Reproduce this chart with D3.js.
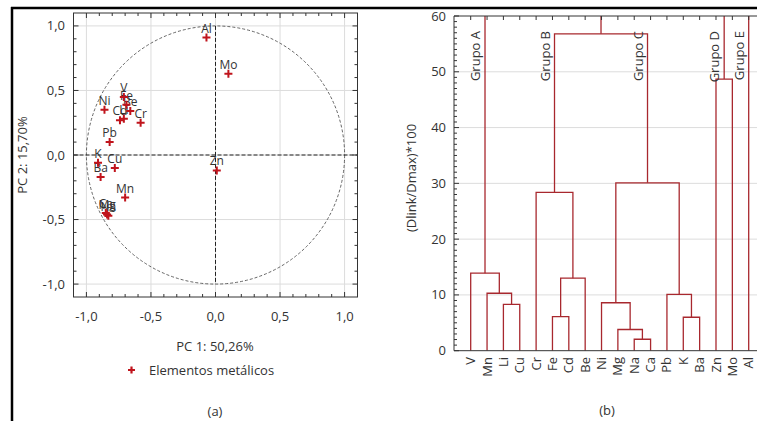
<!DOCTYPE html>
<html lang="pt">
<head>
<meta charset="UTF-8" />
<title>PCA e dendrograma - elementos metálicos</title>
<script src="https://d3js.org/d3.v7.min.js"></script>
<style>
  body { margin: 0; background: #fff; }
  svg { display: block; font-family: "Open Sans", sans-serif; }
  .tick-label { font-size: 13px; fill: #333; }
  .axis-title { font-size: 13px; fill: #333; }
</style>
</head>
<body>
<svg width="757" height="421"></svg>
<script>
// ---- data: PCA loadings (a)
const elements = ["Al", "Mo", "V", "Fe", "Be", "Li", "Cd", "Cr", "Ni", "Pb", "K", "Cu", "Ba", "Zn", "Mn", "Mg", "Na", "Ca"];
const pc1 = [-0.07, 0.10, -0.71, -0.69, -0.66, -0.71, -0.74, -0.58, -0.86, -0.82, -0.91, -0.78, -0.89, 0.01, -0.70, -0.84, -0.83, -0.85];
const pc2 = [0.91, 0.63, 0.45, 0.39, 0.34, 0.28, 0.27, 0.25, 0.35, 0.10, -0.06, -0.10, -0.17, -0.12, -0.33, -0.46, -0.47, -0.45];
const pcTicks = [-1, -0.5, 0, 0.5, 1];

// ---- data: dendrogram (b)
const leaves = ["V", "Mn", "Li", "Cu", "Cr", "Fe", "Cd", "Be", "Ni", "Mg", "Na", "Ca", "Pb", "K", "Ba", "Zn", "Mo", "Al"];
// [node id, left child, right child, linkage distance]
const merges = [
  ["LiCu", "Li", "Cu", 8.3],
  ["MnLiCu", "Mn", "LiCu", 10.3],
  ["A", "V", "MnLiCu", 13.9],
  ["FeCd", "Fe", "Cd", 6.1],
  ["FeCdBe", "FeCd", "Be", 13.0],
  ["B", "Cr", "FeCdBe", 28.4],
  ["NaCa", "Na", "Ca", 2.05],
  ["MgNaCa", "Mg", "NaCa", 3.8],
  ["NiMg", "Ni", "MgNaCa", 8.6],
  ["KBa", "K", "Ba", 6.0],
  ["PbKBa", "Pb", "KBa", 10.1],
  ["C", "NiMg", "PbKBa", 30.1],
  ["BC", "B", "C", 56.8],
  ["D", "Zn", "Mo", 48.7]
];
const roots = ["A", "BC", "D", "Al"]; // joined above the top of the axis
const groupNames = ["Grupo A", "Grupo B", "Grupo C", "Grupo D", "Grupo E"];
const groupNodes = ["A", "B", "C", "D", "Al"];
const distTicks = [0, 10, 20, 30, 40, 50, 60];

const svg = d3.select("svg");
const red = "#c0141c", darkRed = "#a8282e";
const fmt = v => d3.format(".1f")(v).replace(".", ",").replace("−", "-");

// outer frame
svg.append("line").attr("x1", 11).attr("x2", 757).attr("y1", 8).attr("y2", 8)
  .attr("stroke", "#000").attr("stroke-width", 2.5);
svg.append("line").attr("x1", 12).attr("x2", 12).attr("y1", 7).attr("y2", 421)
  .attr("stroke", "#000").attr("stroke-width", 2.5);

// ================= (a) PCA =================
const x = d3.scaleLinear().domain([-1.1, 1.1]).range([73.5, 357.5]);
const y = d3.scaleLinear().domain([-1.1, 1.1]).range([297, 13]);
const ga = svg.append("g");

// grid
ga.selectAll(".gx").data(pcTicks).join("line")
  .attr("x1", d => x(d)).attr("x2", d => x(d)).attr("y1", y(1.1)).attr("y2", y(-1.1))
  .attr("stroke", "#dcdcdc");
ga.selectAll(".gy").data(pcTicks).join("line")
  .attr("y1", d => y(d)).attr("y2", d => y(d)).attr("x1", x(-1.1)).attr("x2", x(1.1))
  .attr("stroke", "#dcdcdc");

// unit circle + reference lines
ga.append("circle").attr("cx", x(0)).attr("cy", y(0)).attr("r", x(1) - x(0))
  .attr("fill", "none").attr("stroke", "#555").attr("stroke-width", 0.9).attr("stroke-dasharray", "3,2");
ga.append("line").attr("x1", x(-1.1)).attr("x2", x(1.1)).attr("y1", y(0)).attr("y2", y(0))
  .attr("stroke", "#222").attr("stroke-dasharray", "4,2");
ga.append("line").attr("x1", x(0)).attr("x2", x(0)).attr("y1", y(1)).attr("y2", y(-1))
  .attr("stroke", "#222").attr("stroke-dasharray", "4,2");

// frame and inward ticks
ga.append("rect").attr("x", x(-1.1)).attr("y", y(1.1))
  .attr("width", x(1.1) - x(-1.1)).attr("height", y(-1.1) - y(1.1))
  .attr("fill", "none").attr("stroke", "#333");
const minor = d3.range(-10, 11).map(d => d / 10);
minor.forEach(v => {
  const len = Math.abs(v * 2 - Math.round(v * 2)) < 1e-9 ? 5 : 3;
  ga.append("line").attr("x1", x(v)).attr("x2", x(v)).attr("y1", y(-1.1)).attr("y2", y(-1.1) - len).attr("stroke", "#333");
  ga.append("line").attr("x1", x(v)).attr("x2", x(v)).attr("y1", y(1.1)).attr("y2", y(1.1) + len).attr("stroke", "#333");
  ga.append("line").attr("y1", y(v)).attr("y2", y(v)).attr("x1", x(-1.1)).attr("x2", x(-1.1) + len).attr("stroke", "#333");
  ga.append("line").attr("y1", y(v)).attr("y2", y(v)).attr("x1", x(1.1)).attr("x2", x(1.1) - len).attr("stroke", "#333");
});

// tick labels
ga.selectAll(".tx").data(pcTicks).join("text").attr("class", "tick-label")
  .attr("x", d => x(d)).attr("y", 321).attr("text-anchor", "middle").text(fmt);
ga.selectAll(".ty").data(pcTicks).join("text").attr("class", "tick-label")
  .attr("x", 65).attr("y", d => y(d)).attr("dy", "0.35em").attr("text-anchor", "end").text(fmt);

// axis titles
ga.append("text").attr("class", "axis-title").attr("x", 215).attr("y", 351)
  .attr("text-anchor", "middle").text("PC 1: 50,26%");
ga.append("text").attr("class", "axis-title").attr("transform", `translate(22,${y(0)}) rotate(-90)`)
  .attr("dy", "0.35em").attr("text-anchor", "middle").text("PC 2: 15,70%");

// points
const plus = (cx, cy, r) => `M${cx - r},${cy}H${cx + r}M${cx},${cy - r}V${cy + r}`;
const pts = elements.map((e, i) => ({ name: e, px: pc1[i], py: pc2[i] }));
ga.selectAll(".pl").data(pts).join("text")
  .attr("x", d => x(d.px)).attr("y", d => y(d.py) - 5)
  .attr("text-anchor", "middle").attr("font-size", 12).attr("fill", "#333").text(d => d.name);
ga.selectAll(".pt").data(pts).join("path")
  .attr("d", d => plus(x(d.px), y(d.py), 4))
  .attr("stroke", red).attr("stroke-width", 2).attr("fill", "none");

// legend
ga.append("path").attr("d", plus(131.5, 370, 3.5)).attr("stroke", red).attr("stroke-width", 2.2);
ga.append("text").attr("class", "axis-title").attr("x", 149).attr("y", 370).attr("dy", "0.35em")
  .text("Elementos metálicos");
ga.append("text").attr("class", "axis-title").attr("x", 215).attr("y", 416)
  .attr("text-anchor", "middle").text("(a)");

// ================= (b) Dendrogram =================
const xb = d3.scalePoint().domain(leaves).range([470.7, 748.7]);
const yb = d3.scaleLinear().domain([0, 60]).range([350.7, 16]);
const left = 454, right = 766;
const gb = svg.append("g");

svg.append("clipPath").attr("id", "clipb").append("rect")
  .attr("x", left).attr("y", yb(60)).attr("width", right - left).attr("height", yb(0) - yb(60));

gb.selectAll(".gg").data(distTicks.filter(d => d > 0 && d < 60)).join("line")
  .attr("x1", left).attr("x2", right).attr("y1", d => yb(d)).attr("y2", d => yb(d))
  .attr("stroke", "#dcdcdc");

// node positions
const pos = {};
leaves.forEach(l => pos[l] = { x: xb(l), h: 0 });
merges.forEach(([id, a, b, h]) => pos[id] = { x: (pos[a].x + pos[b].x) / 2, h });

const dg = gb.append("g").attr("clip-path", "url(#clipb)")
  .attr("fill", "none").attr("stroke", darkRed).attr("stroke-width", 1.3);
dg.selectAll("path.m").data(merges).join("path")
  .attr("d", ([id, a, b, h]) =>
    `M${pos[a].x},${yb(pos[a].h)}V${yb(h)}H${pos[b].x}V${yb(pos[b].h)}`);
dg.selectAll("line.r").data(roots).join("line")
  .attr("x1", d => pos[d].x).attr("x2", d => pos[d].x)
  .attr("y1", d => yb(pos[d].h)).attr("y2", yb(62));

// frame
gb.append("line").attr("x1", left).attr("x2", left).attr("y1", yb(60)).attr("y2", yb(0)).attr("stroke", "#333");
gb.append("line").attr("x1", left).attr("x2", right).attr("y1", yb(60)).attr("y2", yb(60)).attr("stroke", "#333");
gb.append("line").attr("x1", left).attr("x2", right).attr("y1", yb(0)).attr("y2", yb(0)).attr("stroke", "#333");
d3.range(0, 61).forEach(v => {
  const len = v % 10 === 0 ? 5 : 3;
  gb.append("line").attr("x1", left).attr("x2", left + len).attr("y1", yb(v)).attr("y2", yb(v)).attr("stroke", "#333");
});
gb.selectAll(".tt").data(leaves).join("line")
  .attr("x1", d => xb(d)).attr("x2", d => xb(d)).attr("y1", yb(60)).attr("y2", yb(60) + 4).attr("stroke", "#333");

gb.selectAll(".yl").data(distTicks).join("text").attr("class", "tick-label")
  .attr("font-size", 14).attr("x", 446).attr("y", d => yb(d)).attr("dy", "0.35em")
  .attr("text-anchor", "end").text(d => d);
gb.append("text").attr("class", "axis-title").attr("font-size", 13.5)
  .attr("transform", "translate(411,178) rotate(-90)").attr("dy", "0.35em")
  .attr("text-anchor", "middle").text("(Dlink/Dmax)*100");

// leaf labels
gb.selectAll(".ll").data(leaves).join("text").attr("class", "tick-label").attr("font-size", 13.5)
  .attr("transform", d => `translate(${xb(d)},357) rotate(-90)`).attr("dy", "0.35em")
  .attr("text-anchor", "end").text(d => d);

// group labels
gb.selectAll(".gl").data(groupNames).join("text").attr("class", "tick-label").attr("font-size", 12)
  .attr("transform", (d, i) => `translate(${pos[groupNodes[i]].x - 9.5},31) rotate(-90)`)
  .attr("dy", "0.35em").attr("text-anchor", "end").text(d => d);

gb.append("text").attr("class", "axis-title").attr("x", 607).attr("y", 415)
  .attr("text-anchor", "middle").text("(b)");
</script>
</body>
</html>
